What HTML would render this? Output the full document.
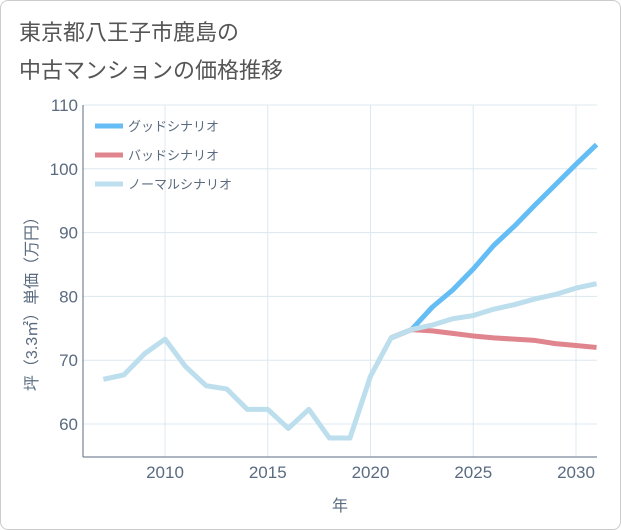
<!DOCTYPE html>
<html><head><meta charset="utf-8"><style>
html,body{margin:0;padding:0;background:#fff;}
#wrap{position:relative;width:619px;height:528px;border:1px solid #ccc;border-radius:8px;overflow:hidden;background:#fff;}
.title{position:absolute;left:18px;font-family:"Liberation Sans","Noto Sans CJK JP",sans-serif;font-size:22px;color:#555;}
svg text{font-family:"Liberation Sans","Noto Sans CJK JP",sans-serif;}
</style></head><body>
<div id="wrap">
<div class="title" style="top:14px">東京都八王子市鹿島の</div>
<div class="title" style="top:52px">中古マンションの価格推移</div>
<svg id="chart" width="621" height="530" style="position:absolute;left:-1px;top:-1px"></svg>
</div>
<script>
const years=[2007,2008,2009,2010,2011,2012,2013,2014,2015,2016,2017,2018,2019,2020,2021,2022,2023,2024,2025,2026,2027,2028,2029,2030,2031];
const normalVals=[67,67.7,71,73.3,69,66,65.5,62.3,62.3,59.3,62.3,57.8,57.8,67.5,73.5,74.8,75.5,76.5,77,78,78.7,79.6,80.3,81.3,82];
const goodYears=[2021,2022,2023,2024,2025,2026,2027,2028,2029,2030,2031];
const goodVals=[73.5,74.8,78.3,81,84.3,88,91,94.3,97.5,100.7,103.8];
const badVals=[73.5,74.8,74.6,74.2,73.8,73.5,73.3,73.1,72.6,72.3,72];
const xTicks=[2010,2015,2020,2025,2030];
const yTicks=[60,70,80,90,100,110];
const legendLabels=["グッドシナリオ","バッドシナリオ","ノーマルシナリオ"];
const colors=["#64bef5","#e0848e","#bcdeed"];

const L=83,R=597,T=105,B=457;
const x=v=>165+(v-2010)*20.55;
const y=v=>424-(v-60)*6.38;
const svg=document.getElementById('chart');
const NS="http://www.w3.org/2000/svg";
function mk(tag,attrs,parent){const e=document.createElementNS(NS,tag);for(const k in attrs)e.setAttribute(k,attrs[k]);(parent||svg).appendChild(e);return e;}

for(const t of xTicks){
 const g=mk('line',{x1:x(t),x2:x(t),y1:T,y2:B,stroke:'#dce8ef','stroke-width':1});
 
 
 const tx=mk('text',{x:x(t),y:478,'text-anchor':'middle','font-size':17,fill:'#5a6b80'});
 tx.textContent=t;
 
 
}
for(const t of yTicks){
 const g=mk('line',{x1:L,x2:R,y1:y(t),y2:y(t),stroke:'#dce8ef','stroke-width':1});
 
 
 const tx=mk('text',{x:78,y:y(t)+6,'text-anchor':'end','font-size':17,fill:'#5a6b80'});
 tx.textContent=t;
 
 
}
const ax=mk('line',{x1:L,x2:R,y1:B,y2:B,stroke:'#5a6b80','stroke-width':1});


const ay=mk('line',{x1:L,x2:L,y1:T,y2:B,stroke:'#5a6b80','stroke-width':1});



const xt=mk('text',{x:340,y:511,'text-anchor':'middle','font-size':16,fill:'#5a6b80'});
xt.textContent='年';


const yt=mk('text',{x:0,y:0,'text-anchor':'middle','font-size':16,fill:'#5a6b80',transform:'translate(37,300) rotate(-90)'});
yt.textContent='坪（3.3㎡）単価（万円）';



function line(xs,vs,c,name){
 const p=mk('polyline',{points:xs.map((v,i)=>x(v)+','+y(vs[i])).join(' '),fill:'none',stroke:c,'stroke-width':5,'stroke-linejoin':'round'});
 
 
}
line(goodYears,goodVals,colors[0],'good-scenario-line');
line(goodYears,badVals,colors[1],'bad-scenario-line');
line(years,normalVals,colors[2],'normal-scenario-line');

legendLabels.forEach((lab,i)=>{
 const yy=126+i*29;
 const l=mk('line',{x1:95,x2:123,y1:yy,y2:yy,stroke:colors[i],'stroke-width':5});
 
 
 const t=mk('text',{x:128,y:yy+5,'font-size':13,fill:'#5a6b80'});
 t.textContent=lab;
 
 
});
</script>
</body></html>
